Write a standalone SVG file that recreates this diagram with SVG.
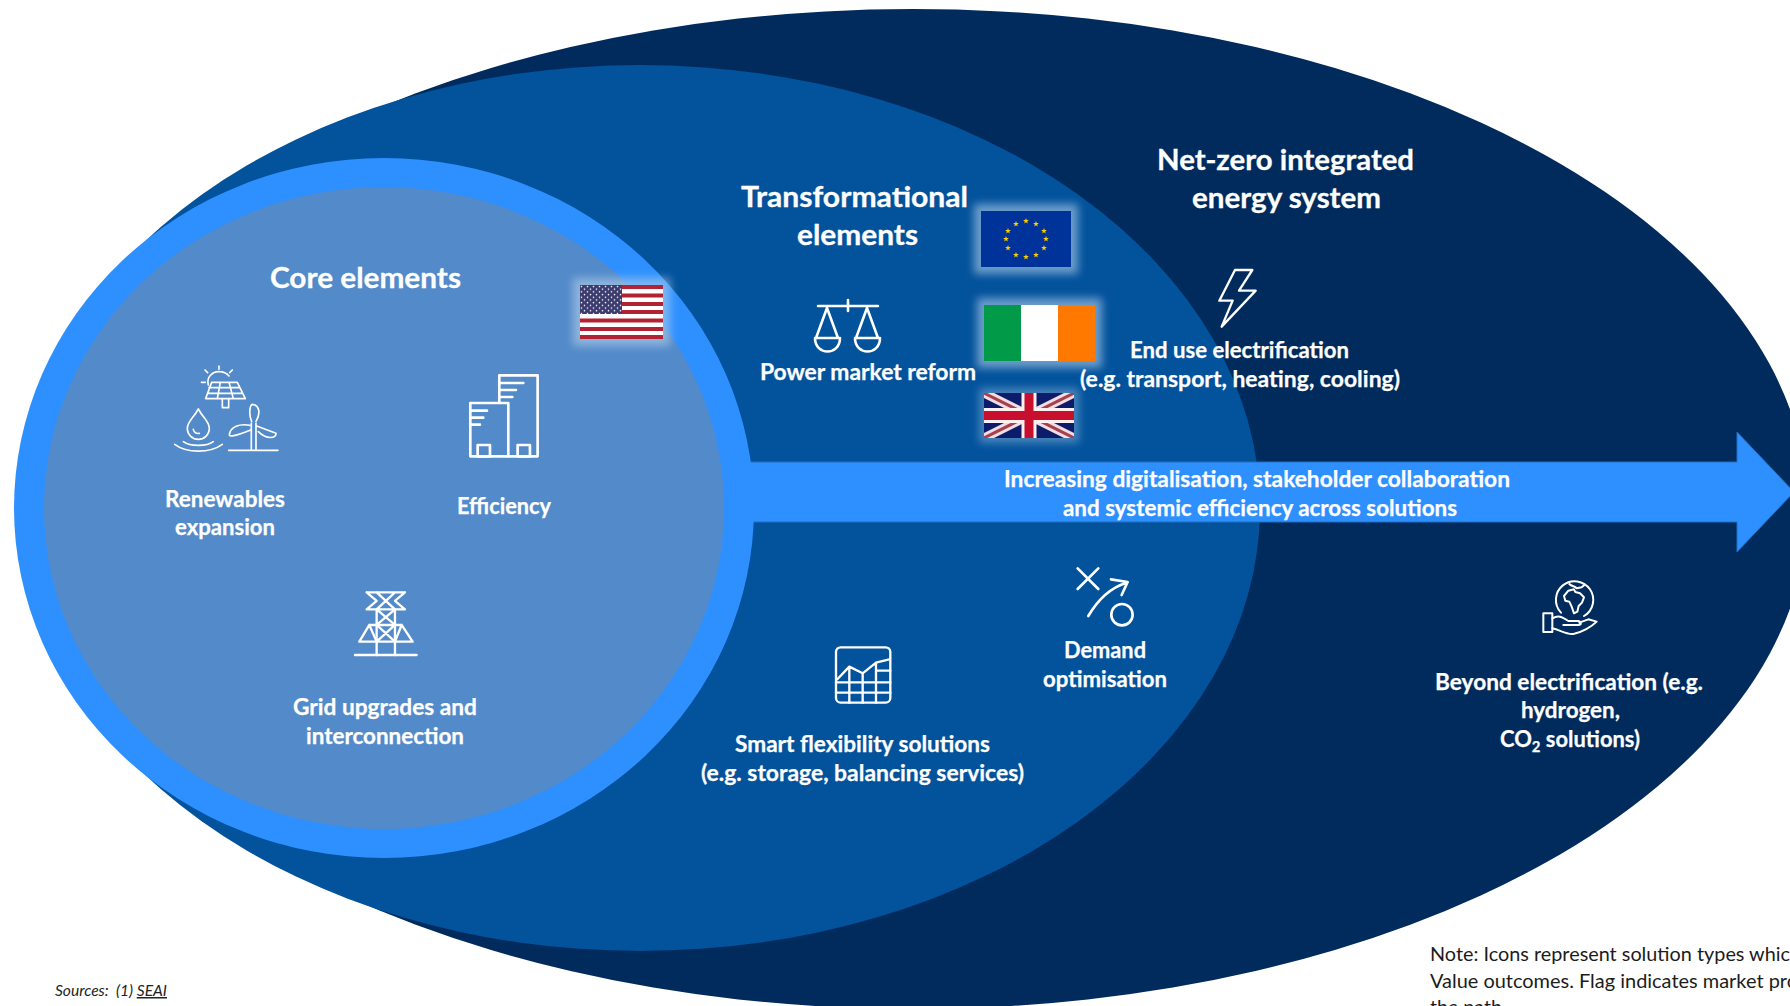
<svg xmlns="http://www.w3.org/2000/svg" xmlns:xlink="http://www.w3.org/1999/xlink" width="1790" height="1006" viewBox="0 0 1790 1006">
<style>
text{font-family:Lato,"Liberation Sans",sans-serif}
.b{font-weight:700;font-size:22px;fill:#fff;stroke:#fff;stroke-width:.25}
.h{font-weight:700;font-size:28.5px;fill:#fff;stroke:#fff;stroke-width:.3}
.n{font-size:20px;fill:#1c1c1c}
.s{font-size:15px;font-style:italic;fill:#222;white-space:pre}
.i{fill:none;stroke:#fff;stroke-linecap:round;stroke-linejoin:round}
.glow{fill:#b4d0ea;opacity:.6;filter:url(#blur)}
</style>
<defs>
<filter id="blur" x="-30%" y="-30%" width="160%" height="160%"><feGaussianBlur stdDeviation="4"/></filter>
<polygon id="star" points="0,-3 .75,-1 2.85,-.9 1.2,.4 1.8,2.4 0,1.2 -1.8,2.4 -1.2,.4 -2.85,-.9 -.75,-1" fill="#ffcc00"/>
<pattern id="usstars" width="6" height="5.4" patternUnits="userSpaceOnUse" x="580" y="285"><circle cx="1.5" cy="1.4" r=".8" fill="#fff"/><circle cx="4.5" cy="4.1" r=".8" fill="#fff"/></pattern>
<clipPath id="ukclip"><rect x="984" y="393" width="90" height="45"/></clipPath>
</defs>
<rect width="1790" height="1006" fill="#fff"/>
<g id="net-zero-system"><ellipse cx="913" cy="509" rx="895" ry="500" fill="#002b5c"/></g>
<g id="transformational-layer"><ellipse cx="640" cy="508" rx="620" ry="443" fill="#02529c"/></g>
<g id="connectors">
<polygon points="600,462 1737,462 1737,432 1794,492 1737,552 1737,522 600,522" fill="#2e90ff" stroke="#1f6fc4" stroke-width="1"/>
</g>
<g id="core-layer">
<ellipse cx="384" cy="508" rx="370" ry="350" fill="#2e90ff"/>
<ellipse cx="384" cy="508" rx="340" ry="321" fill="#538ac9"/>
</g>
<g id="arrow-label">
<text class="b" x="1004" y="487" textLength="506" lengthAdjust="spacingAndGlyphs">Increasing digitalisation, stakeholder collaboration</text>
<text class="b" x="1063" y="516" textLength="394" lengthAdjust="spacingAndGlyphs">and systemic efficiency across solutions</text>
</g>
<g id="core-title"><text class="h" x="270" y="288" textLength="191" lengthAdjust="spacingAndGlyphs">Core elements</text></g>
<g id="transformational-title">
<text class="h" x="741" y="207" textLength="227" lengthAdjust="spacingAndGlyphs">Transformational</text>
<text class="h" x="797" y="245" textLength="121" lengthAdjust="spacingAndGlyphs">elements</text>
</g>
<g id="netzero-title">
<text class="h" x="1157" y="170" textLength="257" lengthAdjust="spacingAndGlyphs">Net-zero integrated</text>
<text class="h" x="1192" y="208" textLength="189" lengthAdjust="spacingAndGlyphs">energy system</text>
</g>
<g id="renewables">
<g class="i" transform="translate(130 340) scale(.3333)" stroke-width="5">
<path d="M235,135 C228,110 250,93 268,95 C280,95 290,100 297,108"/>
<path d="M267,78V88M225,90l8,8M307,90l-8,8M214,127h12"/>
<path d="M245,127H322L346,176H227ZM237,143H330M232,160H338M271,127L262,176M297,127L310,176"/>
<path d="M277,176V203H296V176"/>
<path d="M205,207C190,235 172,245 172,265C172,285 188,298 205,298C222,298 238,285 238,265C238,245 220,235 205,207Z"/>
<path d="M190,268C192,278 200,282 208,280"/>
<path d="M134,313C170,340 240,340 277,313M160,305C180,320 230,320 250,305"/>
<path d="M364,250V331M378,250V331M296,331H444"/>
<path d="M365,245C355,220 360,195 367,193C385,195 395,215 378,245M360,256C330,250 300,260 298,285C300,295 350,275 362,270M380,258L438,280C440,295 410,300 385,275"/>
</g>
<text class="b" x="165" y="507" textLength="120" lengthAdjust="spacingAndGlyphs">Renewables</text>
<text class="b" x="175" y="535" textLength="100" lengthAdjust="spacingAndGlyphs">expansion</text>
</g>
<g id="efficiency">
<g class="i" transform="translate(130 340) scale(.3333)" stroke-width="8">
<path d="M1108,185V106H1223V349H1135"/>
<rect x="1021" y="189" width="114" height="160"/>
<rect x="1043" y="315" width="37" height="34"/><rect x="1163" y="315" width="37" height="34"/>
<path d="M1108,129H1180M1108,150H1158M1108,171H1147M1021,212H1071M1021,233H1060M1021,254H1050"/>
</g>
<text class="b" x="457" y="514" textLength="94" lengthAdjust="spacingAndGlyphs">Efficiency</text>
</g>
<g id="grid">
<g class="i" transform="translate(130 340) scale(.3333)" stroke-width="7">
<path d="M710,757H825M710,808H825M710,757L740,783L710,808M825,757L795,783L825,808M740,757L795,808M795,757L740,808"/>
<path d="M740,808V945M795,808V945M740,808L795,855M795,808L740,855"/>
<path d="M718,855H815M688,905H848M718,855L688,905M815,855L848,905M740,855L795,905M795,855L740,905M718,855L740,905M815,855L795,905M675,945H860"/>
</g>
<text class="b" x="293" y="715" textLength="184" lengthAdjust="spacingAndGlyphs">Grid upgrades and</text>
<text class="b" x="306" y="744" textLength="158" lengthAdjust="spacingAndGlyphs">interconnection</text>
</g>
<g id="power-market">
<path class="i" stroke-width="2.6" d="M818,306H878M848,300V311M827,308L816,338M827,308L838,338M867,308L856,338M867,308L878,338M815,338H840C840,356 815,356 815,338ZM855,338H880C880,356 855,356 855,338Z"/>
<text class="b" x="760" y="380" textLength="216" lengthAdjust="spacingAndGlyphs">Power market reform</text>
</g>
<g id="end-use">
<path class="i" transform="translate(1190 250) scale(.3333)" stroke-width="7" d="M135,60H187L147,122H197L95,230L128,152H88Z"/>
<text class="b" x="1130" y="358" textLength="219" lengthAdjust="spacingAndGlyphs">End use electrification</text>
<text class="b" x="1080" y="387" textLength="320" lengthAdjust="spacingAndGlyphs">(e.g. transport, heating, cooling)</text>
</g>
<g id="smart-flex">
<g class="i" transform="translate(780 540) scale(.3333)" stroke-width="7">
<rect x="168" y="322" width="163" height="166" rx="14"/>
<path d="M172,418L208,380L248,400L288,368L328,358M168,427H331M168,458H331M288,392H331M208,380V488M248,400V488M288,368V488"/>
</g>
<text class="b" x="735" y="752" textLength="255" lengthAdjust="spacingAndGlyphs">Smart flexibility solutions</text>
<text class="b" x="701" y="781" textLength="323" lengthAdjust="spacingAndGlyphs">(e.g. storage, balancing services)</text>
</g>
<g id="demand">
<g class="i" transform="translate(780 540) scale(.3333)" stroke-width="8">
<path d="M893,85L955,147M955,85L893,147M925,228C950,185 985,145 1040,128M993,118L1043,126L1025,165"/>
<circle cx="1026" cy="224" r="32"/>
</g>
<text class="b" x="1064" y="658" textLength="82" lengthAdjust="spacingAndGlyphs">Demand</text>
<text class="b" x="1043" y="687" textLength="124" lengthAdjust="spacingAndGlyphs">optimisation</text>
</g>
<g id="beyond">
<g class="i" transform="translate(1500 560) scale(.3333)" stroke-width="6">
<path d="M183,158A56,56 0 1 1 252,168"/>
<path d="M192,108L205,92L222,88L226,96L240,100L252,112L246,128L236,138L232,155L222,160L215,140L208,125L196,122Z"/>
<path d="M208,72C215,80 225,78 230,85L245,82L254,74"/>
<rect x="130" y="160" width="27" height="56"/>
<path d="M157,175C175,165 185,170 205,183H235C245,185 245,195 235,195H190M157,205C180,210 200,225 220,222C245,218 275,200 290,185L265,178L238,188"/>
</g>
<text class="b" x="1435" y="690" textLength="268" lengthAdjust="spacingAndGlyphs">Beyond electrification (e.g.</text>
<text class="b" x="1521" y="718" textLength="99" lengthAdjust="spacingAndGlyphs">hydrogen,</text>
<text class="b" x="1500" y="747" textLength="140" lengthAdjust="spacingAndGlyphs">CO<tspan dy="5" font-size="15">2</tspan><tspan dy="-5"> solutions)</tspan></text>
</g>
<g id="flag-eu">
<rect class="glow" x="974" y="204" width="104" height="70"/>
<rect x="981" y="211" width="90" height="56" fill="#003399"/>
<use href="#star" x="1026" y="221"/><use href="#star" x="1036" y="224"/><use href="#star" x="1044" y="231"/><use href="#star" x="1046" y="239"/><use href="#star" x="1044" y="248"/><use href="#star" x="1036" y="255"/><use href="#star" x="1026" y="257"/><use href="#star" x="1016" y="255"/><use href="#star" x="1008" y="248"/><use href="#star" x="1006" y="239"/><use href="#star" x="1008" y="231"/><use href="#star" x="1016" y="224"/>
</g>
<g id="flag-us">
<rect class="glow" x="573" y="278" width="97" height="68"/>
<rect x="580" y="285" width="83" height="54" fill="#fff"/>
<path d="M580,287H663M580,295.5H663M580,304H663M580,312H663M580,320.5H663M580,329H663M580,337H663" stroke="#b22234" stroke-width="4.1" fill="none"/>
<rect x="580" y="285" width="42" height="29" fill="#3c3b6e"/>
<rect x="580" y="285" width="42" height="29" fill="url(#usstars)"/>
</g>
<g id="flag-ie">
<rect class="glow" x="977" y="298" width="125" height="70"/>
<rect x="984" y="305" width="37" height="56" fill="#009a49"/>
<rect x="1021" y="305" width="37" height="56" fill="#fff"/>
<rect x="1058" y="305" width="37" height="56" fill="#ff7900"/>
</g>
<g id="flag-uk">
<rect class="glow" x="979" y="388" width="100" height="55" style="opacity:.4"/>
<g clip-path="url(#ukclip)">
<rect x="984" y="393" width="90" height="45" fill="#0c1c6b"/>
<path d="M984,393L1074,438M1074,393L984,438" stroke="#f3dde0" stroke-width="9"/>
<path d="M984,393L1074,438M1074,393L984,438" stroke="#a8404f" stroke-width="3"/>
<path d="M1029,393V438M984,415.5H1074" stroke="#fbeff0" stroke-width="15"/>
<path d="M1029,393V438M984,415.5H1074" stroke="#c8102e" stroke-width="9"/>
</g>
</g>
<g id="notes">
<text class="n" x="1430" y="961" textLength="360" lengthAdjust="spacingAndGlyphs">Note: Icons represent solution types whic</text>
<text class="n" x="1430" y="988" textLength="368" lengthAdjust="spacingAndGlyphs">Value outcomes. Flag indicates market pro</text>
<text class="n" x="1430" y="1014" textLength="72" lengthAdjust="spacingAndGlyphs">the path</text>
<text class="s" x="55" y="996" textLength="112" lengthAdjust="spacingAndGlyphs">Sources:  (1) <tspan text-decoration="underline">SEAI</tspan></text>
</g>
</svg>
